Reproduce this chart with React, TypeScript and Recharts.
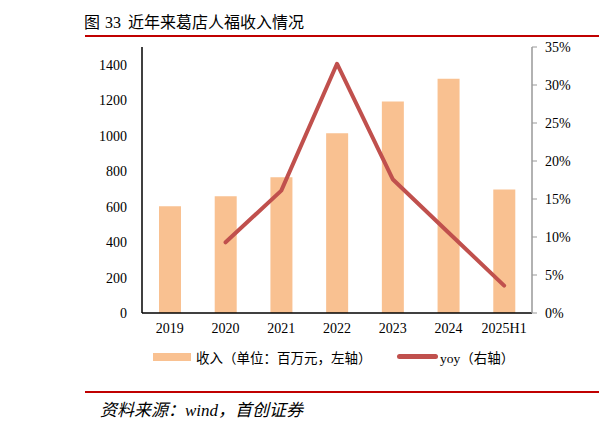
import React from "react";
import { ComposedChart, Bar, Line, XAxis, YAxis } from "recharts";

const categories = ["2019", "2020", "2021", "2022", "2023", "2024", "2025H1"];
const revenue = [602, 659, 766, 1013, 1193, 1321, 696];
const yoy: (number | null)[] = [null, 0.093, 0.161, 0.328, 0.176, 0.106, 0.036];
const leftTicks = [0, 200, 400, 600, 800, 1000, 1200, 1400];
const rightTicks = [0, 0.05, 0.1, 0.15, 0.2, 0.25, 0.3, 0.35];

const data = categories.map((c, i) => ({ name: c, revenue: revenue[i], yoy: yoy[i] }));

const SERIF = '"Liberation Serif", "Noto Sans CJK SC", serif';
const CJK = '"Liberation Serif", "Noto Sans CJK SC", sans-serif';
const BAR = "#F9C191";
const LINE = "#C0504D";

export default function App() {
  return (
    <div style={{ position: "absolute", left: 0, top: 0, width: 599, height: 427, background: "#fff", overflow: "hidden" }}>
      <div style={{ position: "absolute", left: 84, top: 9, fontFamily: CJK, fontSize: 16, color: "#000", whiteSpace: "nowrap" }}>
        <span>图</span>
        <span style={{ marginLeft: 5 }}>33</span>
        <span style={{ marginLeft: 7 }}>近年来葛店人福收入情况</span>
      </div>
      <div style={{ position: "absolute", left: 85, top: 35, width: 514, height: 2, background: "#C00000" }} />
      <ComposedChart
        width={599}
        height={427}
        data={data}
        margin={{ top: 47, right: 17, bottom: 84, left: 82 }}
        style={{ position: "absolute", left: 0, top: 0 }}
      >
        <XAxis
          dataKey="name"
          xAxisId="x"
          height={30}
          tickLine={false}
          tickSize={0}
          tickMargin={10}
          axisLine={{ stroke: "#000", strokeWidth: 1.5 }}
          tick={{ fill: "#000", fontSize: 14, fontFamily: SERIF }}
          interval={0}
        />
        <YAxis
          yAxisId="left"
          orientation="left"
          width={60}
          domain={[0, 1500]}
          ticks={leftTicks}
          allowDataOverflow
          tickLine={false}
          tickSize={0}
          tickMargin={15}
          axisLine={{ stroke: "#000", strokeWidth: 1.5 }}
          tick={{ fill: "#000", fontSize: 14, fontFamily: SERIF }}
        />
        <YAxis
          yAxisId="right"
          orientation="right"
          width={50}
          domain={[0, 0.35]}
          ticks={rightTicks}
          allowDataOverflow
          tickSize={5}
          tickMargin={8}
          tickLine={{ stroke: "#999" }}
          axisLine={{ stroke: "#999", strokeWidth: 1.5 }}
          tick={{ fill: "#000", fontSize: 14, fontFamily: SERIF }}
          tickFormatter={(v: number) => `${Math.round(v * 100)}%`}
        />
        <Bar xAxisId="x" yAxisId="left" dataKey="revenue" fill={BAR} barSize={22} isAnimationActive={false} />
        <Line
          xAxisId="x"
          yAxisId="right"
          dataKey="yoy"
          type="linear"
          stroke={LINE}
          strokeWidth={4}
          strokeLinecap="round"
          strokeLinejoin="round"
          dot={false}
          activeDot={false}
          connectNulls={false}
          isAnimationActive={false}
        />
      </ComposedChart>
      <div style={{ position: "absolute", left: 153, top: 353, width: 38, height: 8, background: BAR }} />
      <div style={{ position: "absolute", left: 196, top: 347, fontFamily: CJK, fontSize: 13.5, color: "#000", whiteSpace: "nowrap" }}>
        收入（单位：百万元，左轴）
      </div>
      <div style={{ position: "absolute", left: 397, top: 354, width: 41, height: 5, borderRadius: 3, background: LINE }} />
      <div style={{ position: "absolute", left: 440, top: 347, fontFamily: CJK, fontSize: 13.5, color: "#000", whiteSpace: "nowrap" }}>
        yoy（右轴）
      </div>
      <div style={{ position: "absolute", left: 85, top: 391, width: 514, height: 2, background: "#C00000" }} />
      <div style={{ position: "absolute", left: 100, top: 396, fontFamily: CJK, fontSize: 17, fontStyle: "italic", color: "#000", whiteSpace: "nowrap" }}>
        资料来源：wind，首创证券
      </div>
    </div>
  );
}
